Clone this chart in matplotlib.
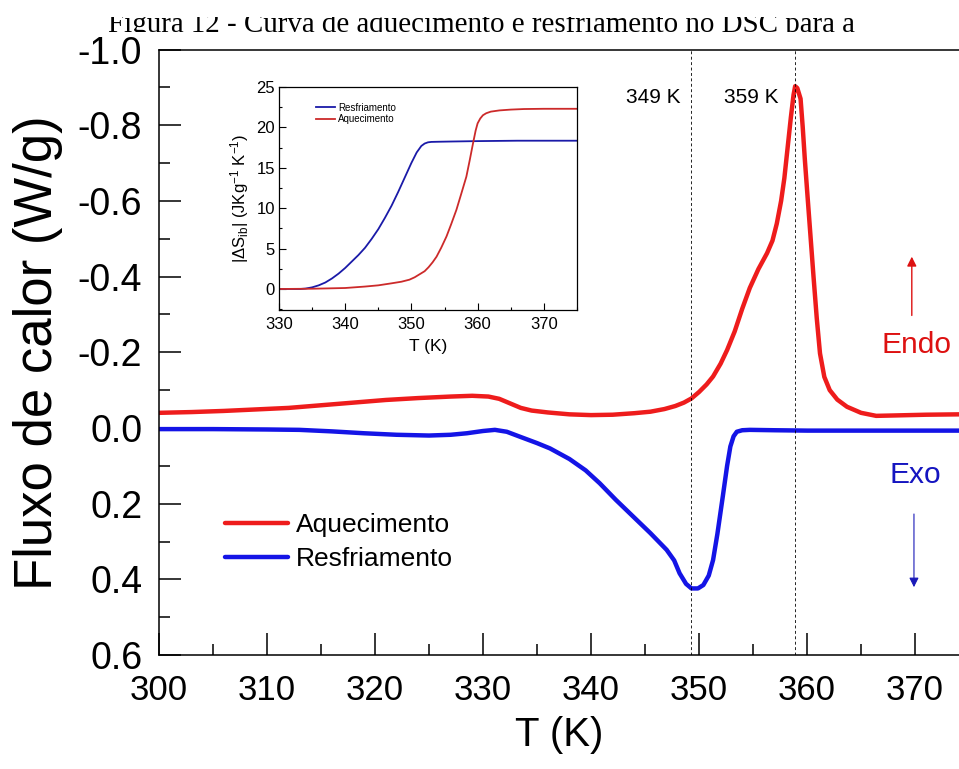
import numpy as np
import matplotlib
matplotlib.use('Agg')
import matplotlib.pyplot as plt
from matplotlib.ticker import MultipleLocator, FormatStrFormatter
from matplotlib.transforms import Bbox, TransformedBbox

plt.rcParams['font.family'] = ['Liberation Sans', 'DejaVu Sans']
plt.rcParams['mathtext.fontset'] = 'custom'
plt.rcParams['mathtext.rm'] = 'Liberation Sans'
plt.rcParams['mathtext.it'] = 'Liberation Sans:italic'

# DSC curves, heat flow (W/g), plotted on an inverted axis
T_heat = [300.0, 303, 306, 309, 312, 315, 318, 321, 324, 327, 329, 330.5, 331.5,
          332.5, 333.5, 334.5, 336, 338, 340, 342, 344, 345.5, 346.8, 347.8, 348.6,
          349.3, 350.0, 350.7, 351.3, 352.0, 352.6, 353.3, 354.0, 354.7, 355.5,
          356.3, 356.8, 357.2, 357.6, 357.9, 358.2, 358.5, 358.75, 358.9, 359.1,
          359.4, 359.6, 359.8, 360.0, 360.3, 360.6, 360.9, 361.2, 361.6, 362.1,
          362.8, 363.7, 365.0, 366.4, 368, 371, 374.1]
q_heat = [-0.040, -0.042, -0.045, -0.049, -0.053, -0.060, -0.067, -0.074, -0.079,
          -0.083, -0.085, -0.083, -0.077, -0.065, -0.053, -0.046, -0.041, -0.036,
          -0.034, -0.035, -0.039, -0.043, -0.050, -0.058, -0.067, -0.078, -0.095,
          -0.115, -0.136, -0.170, -0.206, -0.255, -0.315, -0.370, -0.420, -0.462,
          -0.495, -0.540, -0.600, -0.660, -0.740, -0.820, -0.880, -0.903, -0.898,
          -0.870, -0.795, -0.708, -0.630, -0.515, -0.400, -0.290, -0.197, -0.135,
          -0.100, -0.075, -0.056, -0.040, -0.032, -0.033, -0.035, -0.036]

T_cool = [300, 305, 310, 313, 316, 319, 322, 325, 327, 328.5, 330, 331.1, 332.2,
          333.5, 335, 336.2, 338, 339.5, 340.8, 342.3, 343.9, 345.5, 347.0, 347.7,
          348.2, 348.8, 349.3, 349.9, 350.4, 350.9, 351.3, 351.7, 352.2, 352.6,
          352.9, 353.2, 353.5, 354.0, 354.7, 357, 360, 365, 370, 374.1]
q_cool = [0.003, 0.003, 0.004, 0.005, 0.009, 0.014, 0.018, 0.020, 0.018, 0.014,
          0.008, 0.005, 0.010, 0.024, 0.040, 0.054, 0.082, 0.112, 0.146, 0.190,
          0.234, 0.278, 0.322, 0.350, 0.384, 0.412, 0.424, 0.424, 0.415, 0.390,
          0.349, 0.280, 0.181, 0.100, 0.049, 0.022, 0.010, 0.006, 0.005, 0.006,
          0.007, 0.007, 0.007, 0.007]

peak_T = [349.3, 358.9]
peak_labels = ['349 K', '359 K']

# inset: |dS_ib| (J/kg K)
Ti_cool = [330, 333.2, 334, 335, 336, 337, 338, 339, 340, 341, 342, 343, 344, 345,
           346, 347, 348, 349, 350, 350.8, 351.5, 352, 352.5, 353, 354, 356, 360,
           366, 375]
S_cool = [0.0, 0.0, 0.05, 0.2, 0.45, 0.8, 1.3, 1.9, 2.6, 3.4, 4.2, 5.1, 6.2, 7.4,
          8.8, 10.3, 12.0, 13.8, 15.6, 16.9, 17.7, 18.0, 18.15, 18.2, 18.22, 18.25,
          18.3, 18.35, 18.35]
Ti_heat = [330, 335, 340, 343, 345, 347, 348.5, 349.7, 350.5, 351.3, 352, 352.6,
           353.2, 353.8, 354.5, 355.3, 356, 356.8, 357.5, 358.3, 358.8, 359.3,
           359.7, 360.0, 360.4, 360.8, 361.3, 362, 363.3, 365, 367, 370, 375]
S_heat = [0.0, 0.03, 0.12, 0.3, 0.45, 0.7, 0.9, 1.15, 1.45, 1.85, 2.2, 2.7, 3.3,
          4.0, 5.1, 6.5, 8.0, 9.8, 11.7, 13.9, 15.9, 18.0, 19.6, 20.5, 21.1, 21.5,
          21.75, 21.95, 22.1, 22.2, 22.27, 22.3, 22.3]

red = '#ee1c1c'
blue = '#1414e6'

fig = plt.figure(figsize=(9.59, 7.69), dpi=100)
ax = fig.add_axes([0.1658, 0.1482, 0.8342, 0.7874])

ax.plot(T_heat, q_heat, color=red, lw=3.2, label='Aquecimento', solid_capstyle='round')
ax.plot(T_cool, q_cool, color=blue, lw=3.2, label='Resfriamento', solid_capstyle='round')
for t in peak_T:
    ax.axvline(t, color='black', lw=0.6, ls=(0, (3.5, 3)))

ax.set_xlim(300, 374.07)
ax.set_ylim(0.6, -1.0)
ax.xaxis.set_major_locator(MultipleLocator(10))
ax.xaxis.set_minor_locator(MultipleLocator(5))
ax.yaxis.set_major_locator(MultipleLocator(0.2))
ax.yaxis.set_minor_locator(MultipleLocator(0.1))
ax.yaxis.set_major_formatter(FormatStrFormatter('%.1f'))
ax.tick_params(which='both', direction='in', width=1.1, top=False, right=False)
ax.tick_params(which='major', length=15.6, labelsize=25)
ax.tick_params(which='minor', length=7.8)
ax.tick_params(axis='x', which='major', pad=14)
ax.tick_params(axis='y', which='major', labelsize=27, pad=12)
ax.spines['right'].set_visible(False)
for s in ['left', 'bottom', 'top']:
    ax.spines[s].set_linewidth(1.1)
ax.set_xlabel('T (K)', fontsize=29, labelpad=6)
ax.set_ylabel('Fluxo de calor (W/g)', fontsize=38, labelpad=11)

leg = ax.legend(loc='upper left', bbox_to_anchor=(0.0825, 0.234), frameon=False,
                fontsize=19, handlelength=2.4, handletextpad=0.3, labelspacing=0.36,
                borderpad=0, borderaxespad=0)

ax.text(peak_T[0] - 1.0, -0.872, peak_labels[0], fontsize=15, ha='right', va='center')
ax.text(peak_T[1] - 1.57, -0.872, peak_labels[1], fontsize=15, ha='right', va='center')

ax.annotate('', xy=(369.7, -0.46), xytext=(369.7, -0.29),
            arrowprops=dict(arrowstyle='-|>', color='#dd1111', lw=1.0, mutation_scale=14))
ax.text(370.15, -0.219, 'Endo', color='#dd1111', fontsize=21.5, ha='center', va='center')
ax.annotate('', xy=(369.9, 0.428), xytext=(369.9, 0.22),
            arrowprops=dict(arrowstyle='-|>', color='#1a1ab8', lw=0.8, mutation_scale=14))
ax.text(370.0, 0.124, 'Exo', color='#1515c0', fontsize=21.5, ha='center', va='center')

# inset
axi = fig.add_axes([0.2909, 0.5969, 0.3107, 0.29])
axi.plot(Ti_cool, S_cool, color='#1a1aa8', lw=1.3, label='Resfriamento')
axi.plot(Ti_heat, S_heat, color='#cc2a2a', lw=1.3, label='Aquecimento')
axi.set_xlim(330, 375)
axi.set_ylim(-2.6, 25)
axi.xaxis.set_major_locator(MultipleLocator(10))
axi.xaxis.set_minor_locator(MultipleLocator(5))
axi.yaxis.set_major_locator(MultipleLocator(5))
axi.yaxis.set_minor_locator(MultipleLocator(2.5))
axi.tick_params(which='both', direction='in', width=0.8, top=False, right=False)
axi.tick_params(which='major', length=5, labelsize=12, pad=3)
axi.tick_params(which='minor', length=2.5)
axi.tick_params(axis='x', which='major', pad=5)
for s in axi.spines.values():
    s.set_linewidth(0.9)
axi.set_xlabel('T (K)', fontsize=12.5, labelpad=5)
axi.set_ylabel(r'|$\Delta$S$_{\mathrm{ib}}$| (JKg$^{-1}$ K$^{-1}$)', fontsize=12, labelpad=4)
axi.legend(loc='upper left', bbox_to_anchor=(0.124, 0.93), frameon=False, fontsize=7,
           handlelength=2.0, handletextpad=0.3, labelspacing=0.15, borderpad=0,
           borderaxespad=0)

# caption line of the page, partly hidden behind the figure
cap = fig.text(108 / 959, 1 - 32.5 / 769,
               'Figura 12 - Curva de aquecimento e resfriamento no DSC para a',
               family='Liberation Serif', fontsize=20.9, ha='left', va='baseline')
cap.set_clip_box(TransformedBbox(Bbox([[0, 1 - 32.0 / 769], [1, 1 - 16.5 / 769]]),
                                 fig.transFigure))
cap.set_clip_on(True)

fig.savefig('out.png', dpi=100)
